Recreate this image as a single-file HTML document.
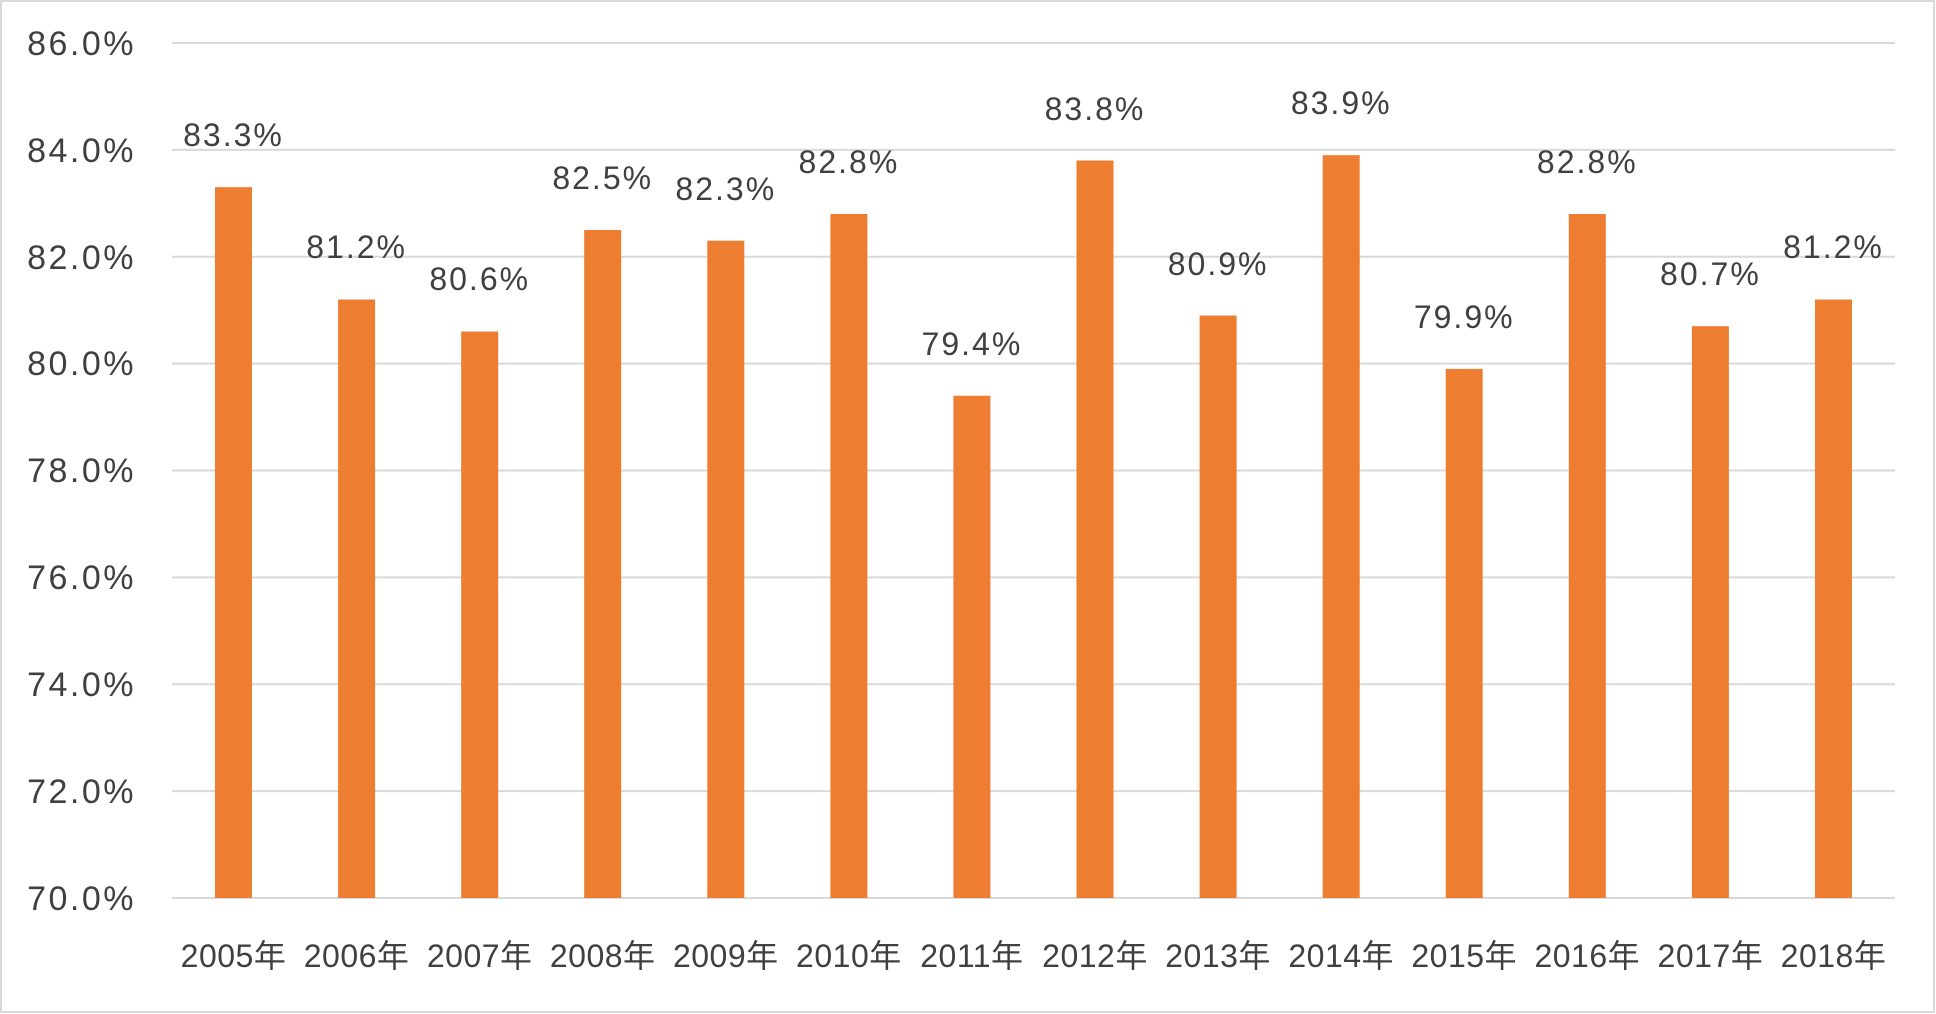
<!DOCTYPE html>
<html><head><meta charset="utf-8"><style>
html,body{margin:0;padding:0;background:#fff;}
svg{display:block;}
text{font-family:"Liberation Sans","Noto Sans CJK JP",sans-serif;fill:#404040;}
</style></head><body>
<svg width="1936" height="1014" viewBox="0 0 1936 1014" xmlns="http://www.w3.org/2000/svg">
<rect x="1" y="1" width="1933" height="1011" fill="#fff" stroke="#d9d9d9" stroke-width="2"/>
<g stroke="#d9d9d9" stroke-width="2">
<line x1="172" x2="1895" y1="43" y2="43"/>
<line x1="172" x2="1895" y1="149.9" y2="149.9"/>
<line x1="172" x2="1895" y1="256.8" y2="256.8"/>
<line x1="172" x2="1895" y1="363.6" y2="363.6"/>
<line x1="172" x2="1895" y1="470.5" y2="470.5"/>
<line x1="172" x2="1895" y1="577.4" y2="577.4"/>
<line x1="172" x2="1895" y1="684.3" y2="684.3"/>
<line x1="172" x2="1895" y1="791.1" y2="791.1"/>
<line x1="172" x2="1895" y1="898" y2="898"/>
</g>
<g font-size="34" text-anchor="end" letter-spacing="2.5">
<text x="136" y="55">86.0%</text>
<text x="136" y="162">84.0%</text>
<text x="136" y="269">82.0%</text>
<text x="136" y="375">80.0%</text>
<text x="136" y="482">78.0%</text>
<text x="136" y="589">76.0%</text>
<text x="136" y="696">74.0%</text>
<text x="136" y="803">72.0%</text>
<text x="136" y="910">70.0%</text>
</g>
<g fill="#ED7D31">
<rect x="215" y="187.2" width="37" height="710.8"/>
<rect x="338.1" y="299.5" width="37" height="598.5"/>
<rect x="461.2" y="331.5" width="37" height="566.5"/>
<rect x="584.2" y="230" width="37" height="668"/>
<rect x="707.3" y="240.7" width="37" height="657.3"/>
<rect x="830.4" y="214" width="37" height="684"/>
<rect x="953.4" y="395.7" width="37" height="502.3"/>
<rect x="1076.5" y="160.5" width="37" height="737.5"/>
<rect x="1199.6" y="315.5" width="37" height="582.5"/>
<rect x="1322.7" y="155.2" width="37" height="742.8"/>
<rect x="1445.7" y="368.9" width="37" height="529.1"/>
<rect x="1568.8" y="214" width="37" height="684"/>
<rect x="1691.9" y="326.2" width="37" height="571.8"/>
<rect x="1815" y="299.5" width="37" height="598.5"/>
</g>
<g font-size="32" text-anchor="middle" letter-spacing="2">
<text x="233.5" y="146">83.3%</text>
<text x="356.6" y="258">81.2%</text>
<text x="479.7" y="290">80.6%</text>
<text x="602.7" y="189">82.5%</text>
<text x="725.8" y="200">82.3%</text>
<text x="848.9" y="173">82.8%</text>
<text x="971.9" y="355">79.4%</text>
<text x="1095" y="120">83.8%</text>
<text x="1218.1" y="275">80.9%</text>
<text x="1341.2" y="114">83.9%</text>
<text x="1464.2" y="328">79.9%</text>
<text x="1587.3" y="173">82.8%</text>
<text x="1710.4" y="285">80.7%</text>
<text x="1833.5" y="258">81.2%</text>
</g>
<g font-size="32" text-anchor="middle" letter-spacing="0.5">
<text x="233.5" y="967">2005年</text>
<text x="356.6" y="967">2006年</text>
<text x="479.7" y="967">2007年</text>
<text x="602.7" y="967">2008年</text>
<text x="725.8" y="967">2009年</text>
<text x="848.9" y="967">2010年</text>
<text x="971.9" y="967">2011年</text>
<text x="1095" y="967">2012年</text>
<text x="1218.1" y="967">2013年</text>
<text x="1341.2" y="967">2014年</text>
<text x="1464.2" y="967">2015年</text>
<text x="1587.3" y="967">2016年</text>
<text x="1710.4" y="967">2017年</text>
<text x="1833.5" y="967">2018年</text>
</g>
</svg>
</body></html>
